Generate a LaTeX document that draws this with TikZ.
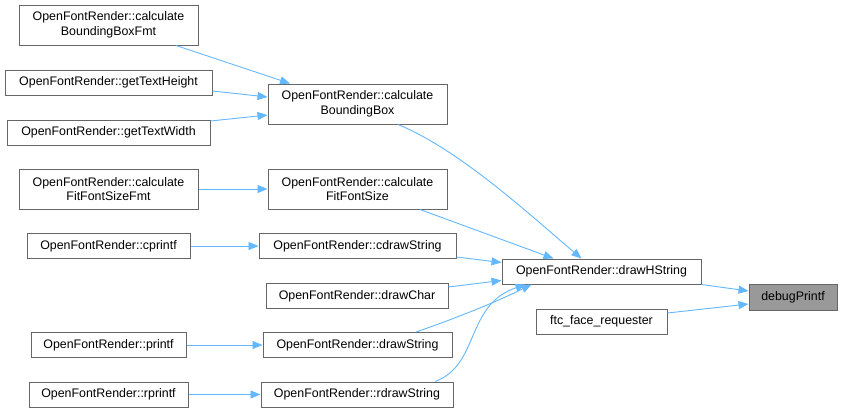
\documentclass[tikz,border=0pt]{standalone}
\usepackage{fontspec}
\setmainfont{Liberation Sans}
\usetikzlibrary{arrows.meta,calc}
\definecolor{edgeblue}{HTML}{63B8FF}
\definecolor{boxgray}{HTML}{666666}
\definecolor{dbgfill}{HTML}{999999}
\begin{document}
\begin{tikzpicture}[x=1pt,y=-1pt,
  fn/.style={draw=boxgray,fill=white,line width=1pt,inner sep=0pt,align=center,
    font=\fontsize{12.4pt}{14.5pt}\selectfont,text=black},
  link/.style={draw=edgeblue,line width=0.9pt,-{Triangle[length=10pt,width=8pt]}}]
\useasboundingbox[fill=white] (0,0) rectangle (843,413);
% nodes
\node[fn,minimum width=179pt,minimum height=40pt] (bbfmt) at (108.5,25) {OpenFontRender::calculate\\BoundingBoxFmt};
\node[fn,minimum width=207pt,minimum height=25pt] (gth) at (108.5,82.5) {OpenFontRender::getTextHeight};
\node[fn,minimum width=203pt,minimum height=25pt] (gtw) at (108.5,132.5) {OpenFontRender::getTextWidth};
\node[fn,minimum width=179pt,minimum height=40pt] (cbb) at (357.5,104) {OpenFontRender::calculate\\BoundingBox};
\node[fn,minimum width=179pt,minimum height=40pt] (cffsf) at (108.5,189) {OpenFontRender::calculate\\FitFontSizeFmt};
\node[fn,minimum width=179pt,minimum height=40pt] (cffs) at (357.5,189) {OpenFontRender::calculate\\FitFontSize};
\node[fn,minimum width=163pt,minimum height=25pt] (cpf) at (108.5,246) {OpenFontRender::cprintf};
\node[fn,minimum width=197pt,minimum height=25pt] (cds) at (357.5,246) {OpenFontRender::cdrawString};
\node[fn,minimum width=182pt,minimum height=25pt] (dch) at (357,296) {OpenFontRender::drawChar};
\node[fn,minimum width=155pt,minimum height=25pt] (pf) at (108.5,345) {OpenFontRender::printf};
\node[fn,minimum width=189pt,minimum height=25pt] (ds) at (357.5,345) {OpenFontRender::drawString};
\node[fn,minimum width=159pt,minimum height=25pt] (rpf) at (108.5,394.5) {OpenFontRender::rprintf};
\node[fn,minimum width=192pt,minimum height=25pt] (rds) at (357,394.5) {OpenFontRender::rdrawString};
\node[fn,minimum width=199pt,minimum height=25pt] (dhs) at (601.5,271.5) {OpenFontRender::drawHString};
\node[fn,minimum width=131pt,minimum height=25pt] (ftc) at (601.5,321.5) {ftc\_face\_requester};
\node[fn,fill=dbgfill,minimum width=88pt,minimum height=26pt] (dbg) at (793,297) {debugPrintf};
% edges
\draw[link] ($(bbfmt.south)+(67.5,0)$) -- ($(cbb.north)+(-67.5,0)$);
\draw[link] ($(gth.east)+(0,8.5)$) -- ($(cbb.west)+(0,-7)$);
\draw[link] ($(gtw.east)+(0,-11.5)$) -- ($(cbb.west)+(0,11)$);
\draw[link] (cffsf.east) -- (cffs.west);
\draw[link] (cpf.east) -- (cds.west);
\draw[link] (pf.east) -- (ds.west);
\draw[link] (rpf.east) -- (rds.west);
\draw[link] ($(cbb.south)+(40.5,0)$) .. controls (460,150) and (530,215) .. ($(dhs.north)+(-20,0)$);
\draw[link] ($(cffs.south)+(62.5,0)$) -- ($(dhs.north)+(-48,0)$);
\draw[link] ($(cds.east)+(0,11)$) -- ($(dhs.west)+(0,-9)$);
\draw[link] ($(dch.east)+(0,-9)$) -- ($(dhs.west)+(0,9)$);
\draw[link] ($(ds.north)+(58.5,0)$) .. controls (465,315) and (500,300) .. ($(dhs.south)+(-70,0)$);
\draw[link] ($(rds.north)+(78,0)$) .. controls (480,365) and (465,305) .. ($(dhs.south)+(-76,0)$);
\draw[link] (dhs.south east) -- ($(dbg.west)+(0,-6)$);
\draw[link] ($(ftc.east)+(0,-8.5)$) -- ($(dbg.west)+(0,7)$);
\end{tikzpicture}
\end{document}
